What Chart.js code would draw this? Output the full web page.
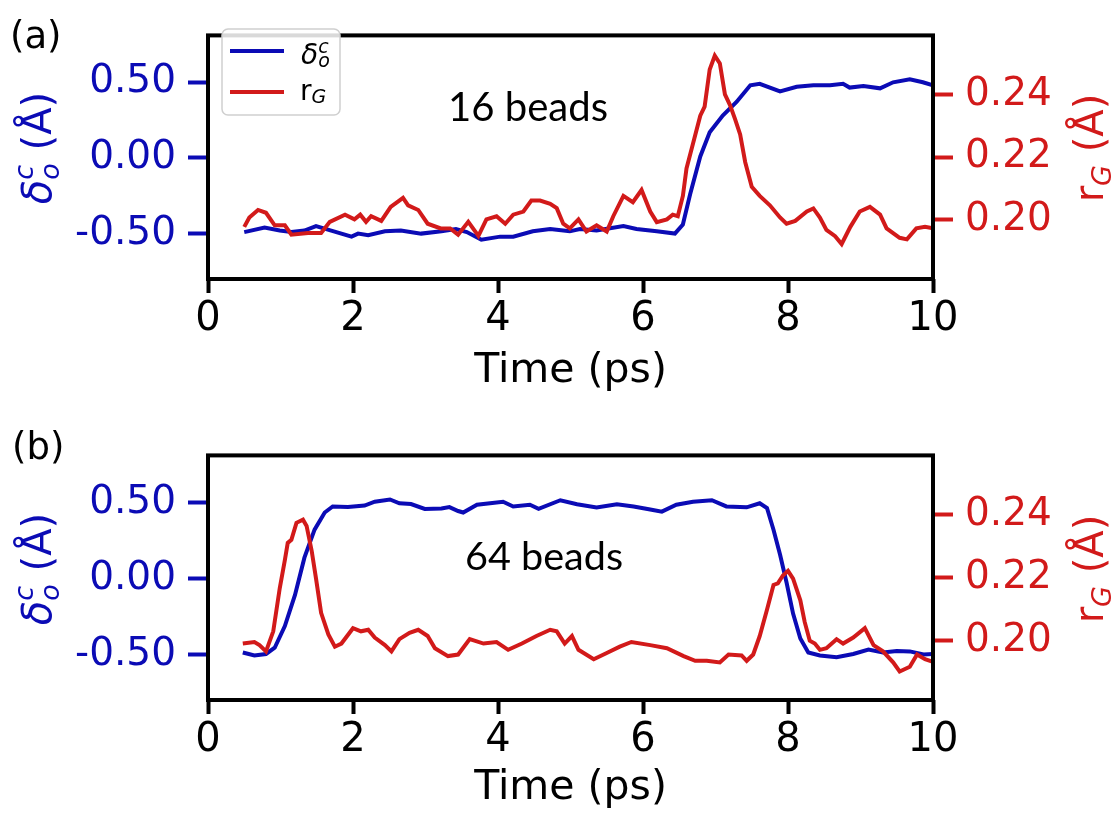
<!DOCTYPE html>
<html>
<head>
<meta charset="utf-8">
<script src="https://cdn.jsdelivr.net/npm/chart.js@4.4.1/dist/chart.umd.min.js"></script>
<style>
    html, body { margin: 0; padding: 0; background: #fff; }
    #wrap { position: relative; width: 1111px; height: 821px; overflow: hidden; }
    canvas { position: absolute; left: 0; }
    #chartA { top: 0; }
    #chartB { top: 420px; }
</style>
</head>
<body>
<div id="wrap">
    <canvas id="chartA" width="1111" height="410"></canvas>
    <canvas id="chartB" width="1111" height="401"></canvas>
</div>
<script>
// tick labels
const xTicks = [0, 2, 4, 6, 8, 10];
const deltaTicks = [-0.5, 0, 0.5];
const rgTicks = [0.20, 0.22, 0.24];

// (a) 16 beads : [time (ps), value]
const aDelta = [
    [0.5, -0.49], [0.78, -0.46], [0.99, -0.48], [1.15, -0.49], [1.33, -0.48], [1.49, -0.45],
    [1.70, -0.48], [1.98, -0.52], [2.07, -0.50], [2.21, -0.51], [2.44, -0.485], [2.66, -0.48],
    [2.94, -0.50], [3.22, -0.485], [3.42, -0.47], [3.57, -0.49], [3.77, -0.54], [4.03, -0.52],
    [4.21, -0.52], [4.48, -0.485], [4.72, -0.47], [4.99, -0.485], [5.13, -0.47], [5.36, -0.48],
    [5.73, -0.45], [5.91, -0.47], [6.19, -0.485], [6.44, -0.50], [6.55, -0.44], [6.65, -0.24],
    [6.79, 0.01], [6.92, 0.17], [7.10, 0.28], [7.29, 0.37], [7.48, 0.48], [7.61, 0.49],
    [7.89, 0.44], [8.12, 0.47], [8.35, 0.48], [8.58, 0.48], [8.76, 0.49], [8.85, 0.465],
    [9.04, 0.475], [9.27, 0.46], [9.45, 0.50], [9.68, 0.52], [9.86, 0.50], [10, 0.48]
];
const aRg = [
    [0.5, 0.1977], [0.57, 0.2007], [0.69, 0.2031], [0.80, 0.2022], [0.92, 0.1982], [1.06, 0.1982],
    [1.15, 0.1952], [1.38, 0.1957], [1.56, 0.1957], [1.68, 0.1993], [1.89, 0.2016], [2.02, 0.2001],
    [2.10, 0.2016], [2.18, 0.1993], [2.25, 0.2011], [2.39, 0.1996], [2.52, 0.2041], [2.69, 0.2070],
    [2.76, 0.2046], [2.90, 0.2031], [3.03, 0.1987], [3.21, 0.1972], [3.34, 0.1972], [3.45, 0.1952],
    [3.59, 0.1993], [3.73, 0.1948], [3.84, 0.2001], [3.98, 0.2011], [4.10, 0.1987], [4.21, 0.2016],
    [4.35, 0.2026], [4.46, 0.2061], [4.58, 0.2061], [4.72, 0.2051], [4.81, 0.2037], [4.90, 0.1987],
    [4.99, 0.1972], [5.11, 0.2001], [5.22, 0.1962], [5.36, 0.1982], [5.50, 0.1962], [5.59, 0.2011],
    [5.73, 0.2076], [5.86, 0.2056], [5.98, 0.2095], [6.10, 0.2026], [6.19, 0.1992], [6.33, 0.2001],
    [6.41, 0.2016], [6.48, 0.2011], [6.55, 0.2076], [6.60, 0.2164], [6.69, 0.2244], [6.79, 0.2333],
    [6.85, 0.2362], [6.92, 0.2481], [6.99, 0.2525], [7.06, 0.2500], [7.13, 0.2401], [7.20, 0.2367],
    [7.27, 0.2322], [7.34, 0.2273], [7.41, 0.2184], [7.50, 0.2105], [7.61, 0.2076], [7.75, 0.2046],
    [7.89, 0.2007], [7.98, 0.1987], [8.10, 0.1996], [8.26, 0.2026], [8.35, 0.2036], [8.44, 0.2007],
    [8.53, 0.1967], [8.65, 0.1947], [8.74, 0.1922], [8.86, 0.1977], [8.99, 0.2026], [9.13, 0.2041],
    [9.27, 0.2016], [9.36, 0.1972], [9.54, 0.1942], [9.64, 0.1937], [9.77, 0.1972], [9.89, 0.1977],
    [10, 0.1972]
];

// (b) 64 beads
const bDelta = [
    [0.48, -0.487], [0.64, -0.507], [0.80, -0.497], [0.92, -0.456], [1.06, -0.313], [1.20, -0.108],
    [1.33, 0.137], [1.47, 0.321], [1.61, 0.434], [1.72, 0.474], [1.93, 0.47], [2.16, 0.48],
    [2.30, 0.505], [2.51, 0.52], [2.64, 0.495], [2.80, 0.49], [2.99, 0.458], [3.22, 0.46],
    [3.33, 0.47], [3.45, 0.444], [3.52, 0.434], [3.71, 0.485], [4.07, 0.505], [4.21, 0.474],
    [4.44, 0.485], [4.56, 0.458], [4.86, 0.515], [5.09, 0.489], [5.36, 0.468], [5.64, 0.489],
    [5.87, 0.474], [6.10, 0.454], [6.26, 0.44], [6.46, 0.485], [6.69, 0.505], [6.95, 0.515],
    [7.15, 0.474], [7.43, 0.468], [7.61, 0.495], [7.71, 0.464], [7.80, 0.321], [7.89, 0.158],
    [7.98, -0.027], [8.07, -0.231], [8.17, -0.395], [8.28, -0.487], [8.44, -0.507], [8.67, -0.518],
    [8.90, -0.497], [9.11, -0.468], [9.31, -0.487], [9.50, -0.477], [9.68, -0.48], [9.87, -0.50],
    [10, -0.497]
];
const bRg = [
    [0.48, 0.1990], [0.64, 0.1995], [0.71, 0.1985], [0.80, 0.1965], [0.90, 0.2029], [0.99, 0.2167],
    [1.06, 0.2256], [1.10, 0.2311], [1.15, 0.2321], [1.22, 0.2375], [1.31, 0.2385], [1.36, 0.2365],
    [1.43, 0.2286], [1.49, 0.2197], [1.56, 0.2088], [1.66, 0.2019], [1.75, 0.1980], [1.84, 0.1990],
    [2.00, 0.2039], [2.11, 0.2029], [2.21, 0.2034], [2.30, 0.2009], [2.44, 0.1985], [2.53, 0.1965],
    [2.64, 0.2004], [2.78, 0.2024], [2.90, 0.2034], [3.03, 0.2014], [3.13, 0.1975], [3.31, 0.1950],
    [3.45, 0.1955], [3.61, 0.2004], [3.80, 0.1990], [3.98, 0.1995], [4.14, 0.1970], [4.33, 0.1990],
    [4.53, 0.2014], [4.72, 0.2034], [4.81, 0.2029], [4.92, 0.1990], [5.02, 0.2014], [5.11, 0.1970],
    [5.32, 0.1940], [5.50, 0.1960], [5.68, 0.1980], [5.84, 0.1995], [6.10, 0.1985], [6.33, 0.1975],
    [6.56, 0.1950], [6.72, 0.1935], [6.88, 0.1935], [7.06, 0.1930], [7.18, 0.1955], [7.36, 0.1952],
    [7.43, 0.1935], [7.52, 0.1955], [7.61, 0.2014], [7.71, 0.2098], [7.80, 0.2177], [7.86, 0.2182],
    [7.93, 0.2207], [8.00, 0.2222], [8.07, 0.2197], [8.17, 0.2128], [8.23, 0.2059], [8.30, 0.1999],
    [8.37, 0.1990], [8.44, 0.1970], [8.53, 0.1975], [8.67, 0.2004], [8.76, 0.1990], [8.90, 0.2009],
    [9.06, 0.2039], [9.18, 0.1985], [9.31, 0.1965], [9.45, 0.1930], [9.54, 0.1901], [9.68, 0.1916],
    [9.78, 0.1955], [9.89, 0.1940], [10, 0.1932]
];

const BLUE = '#0b0bb5';
const RED = '#d21a1a';
const FONT = '"DejaVu Sans", sans-serif';

// --- kleine helper buat teks dengan subscript / superscript ---
function partWidth(ctx, p) {
    const items = p.stack || [p];
    return Math.max(...items.map(s => { ctx.font = s.font; return ctx.measureText(s.t).width; }));
}

function drawRich(ctx, parts, x, y, color, rotate, center) {
    ctx.save();
    ctx.translate(x, y);
    if (rotate) ctx.rotate(-Math.PI / 2);
    ctx.fillStyle = color;
    ctx.textAlign = 'left';
    ctx.textBaseline = 'alphabetic';
    const total = parts.reduce((s, p) => s + partWidth(ctx, p), 0);
    let cx = center ? -total / 2 : 0;
    parts.forEach(p => {
        (p.stack || [p]).forEach(s => { ctx.font = s.font; ctx.fillText(s.t, cx, s.dy || 0); });
        cx += partWidth(ctx, p);
    });
    ctx.restore();
}

const deltaTitle = [
    { t: 'δ', font: 'italic 40px ' + FONT },
    { stack: [{ t: 'c', font: 'italic 27px ' + FONT, dy: -18 }, { t: 'o', font: 'italic 27px ' + FONT, dy: 8 }] },
    { t: ' (Å)', font: '40px ' + FONT }
];
const rgTitle = [
    { t: 'r', font: '40px ' + FONT },
    { t: 'G', font: 'italic 27px ' + FONT, dy: 8 },
    { t: ' (Å)', font: '40px ' + FONT }
];
const deltaLegend = [
    { t: 'δ', font: 'italic 28px ' + FONT },
    { stack: [{ t: 'c', font: 'italic 19px ' + FONT, dy: -11 }, { t: 'o', font: 'italic 19px ' + FONT, dy: 3 }] }
];
const rgLegend = [
    { t: 'r', font: '28px ' + FONT },
    { t: 'G', font: 'italic 19px ' + FONT, dy: 3 }
];

const decor = {
    id: 'decor',
    afterDraw(chart, args, o) {
        const ctx = chart.ctx;
        const a = chart.chartArea;

        // kotak plot
        ctx.save();
        ctx.strokeStyle = '#000';
        ctx.lineWidth = 4;
        ctx.strokeRect(a.left, a.top, a.right - a.left, a.bottom - a.top);
        ctx.restore();

        // judul sumbu
        drawRich(ctx, deltaTitle, 51, o.titleY, BLUE, true, true);
        drawRich(ctx, rgTitle, 1103, o.titleY, RED, true, true);

        ctx.save();
        ctx.fillStyle = '#000';
        ctx.font = '41px ' + FONT;
        ctx.textAlign = 'center';
        ctx.textBaseline = 'alphabetic';
        ctx.fillText('Time (ps)', (a.left + a.right) / 2, o.timeY);

        // label panel
        ctx.font = '37px ' + FONT;
        ctx.textAlign = 'left';
        ctx.fillText(o.panel, o.panelX, o.panelY);

        // "xx beads" - ukuran font disesuaikan dengan lebar target
        ctx.font = '40px Lato';
        const w = ctx.measureText(o.beads).width;
        ctx.font = (40 * o.beadsW / w).toFixed(1) + 'px Lato';
        ctx.textAlign = 'center';
        ctx.textBaseline = 'middle';
        ctx.fillText(o.beads, o.beadsX, o.beadsY);
        ctx.restore();

        if (o.legend) {
            ctx.save();
            ctx.beginPath();
            ctx.roundRect(222, 29, 118, 86, 6);
            ctx.fillStyle = 'rgba(255,255,255,0.85)';
            ctx.fill();
            ctx.strokeStyle = '#cfcfcf';
            ctx.lineWidth = 1.5;
            ctx.stroke();
            ctx.lineWidth = 4;
            ctx.strokeStyle = BLUE;
            ctx.beginPath(); ctx.moveTo(230, 51); ctx.lineTo(284, 51); ctx.stroke();
            ctx.strokeStyle = RED;
            ctx.beginPath(); ctx.moveTo(230, 92); ctx.lineTo(284, 92); ctx.stroke();
            ctx.restore();
            drawRich(ctx, deltaLegend, 301, 64, '#000', false, false);
            drawRich(ctx, rgLegend, 300, 100, '#000', false, false);
        }
    }
};

function makeChart(id, delta, rg, o) {
    return new Chart(document.getElementById(id), {
        type: 'line',
        data: {
            datasets: [
                {
                    data: rg.map(p => ({ x: p[0], y: p[1] })),
                    yAxisID: 'yR', borderColor: RED, borderWidth: 4,
                    pointRadius: 0, tension: 0, fill: false, order: 0
                },
                {
                    data: delta.map(p => ({ x: p[0], y: p[1] })),
                    yAxisID: 'yL', borderColor: BLUE, borderWidth: 4,
                    pointRadius: 0, tension: 0, fill: false, order: 1
                }
            ]
        },
        options: {
            responsive: false,
            animation: false,
            events: [],
            layout: { padding: { top: o.padTop, left: 0, right: 0, bottom: 0 } },
            plugins: { legend: { display: false }, tooltip: { enabled: false }, decor: o },
            scales: {
                x: {
                    type: 'linear', min: 0, max: 10,
                    afterBuildTicks: s => { s.ticks = xTicks.map(v => ({ value: v })); },
                    afterFit: s => { s.height = o.xHeight; },
                    grid: { display: true, drawOnChartArea: false, drawTicks: true, tickLength: 14, tickWidth: 4, color: '#000' },
                    border: { display: false },
                    ticks: { color: '#000', font: { family: 'DejaVu Sans', size: 40 }, padding: 3, maxRotation: 0, autoSkip: false, callback: v => String(v) }
                },
                yL: {
                    type: 'linear', position: 'left', min: -0.8, max: 0.81,
                    afterBuildTicks: s => { s.ticks = deltaTicks.map(v => ({ value: v })); },
                    afterFit: s => { s.width = 208; },
                    grid: { display: true, drawOnChartArea: false, drawTicks: true, tickLength: 20, tickWidth: 4, color: BLUE },
                    border: { display: false },
                    ticks: { color: BLUE, font: { family: 'DejaVu Sans', size: 39 }, padding: 12, callback: v => v.toFixed(2) }
                },
                yR: {
                    type: 'linear', position: 'right', min: 0.181, max: 0.259,
                    afterBuildTicks: s => { s.ticks = rgTicks.map(v => ({ value: v })); },
                    afterFit: s => { s.width = 178; },
                    grid: { display: true, drawOnChartArea: false, drawTicks: true, tickLength: 20, tickWidth: 4, color: RED },
                    border: { display: false },
                    ticks: { color: RED, font: { family: 'DejaVu Sans', size: 39 }, padding: 12, callback: v => v.toFixed(2) }
                }
            }
        },
        plugins: [decor]
    });
}

makeChart('chartA', aDelta, aRg, {
    padTop: 15, xHeight: 131, titleY: 148, timeY: 382,
    panel: '(a)', panelX: 10, panelY: 48,
    beads: '16 beads', beadsW: 160, beadsX: 528, beadsY: 108,
    legend: true
});
makeChart('chartB', bDelta, bRg, {
    padTop: 17, xHeight: 121, titleY: 149, timeY: 379,
    panel: '(b)', panelX: 12, panelY: 39,
    beads: '64 beads', beadsW: 158, beadsX: 544, beadsY: 137,
    legend: false
});
</script>
</body>
</html>
